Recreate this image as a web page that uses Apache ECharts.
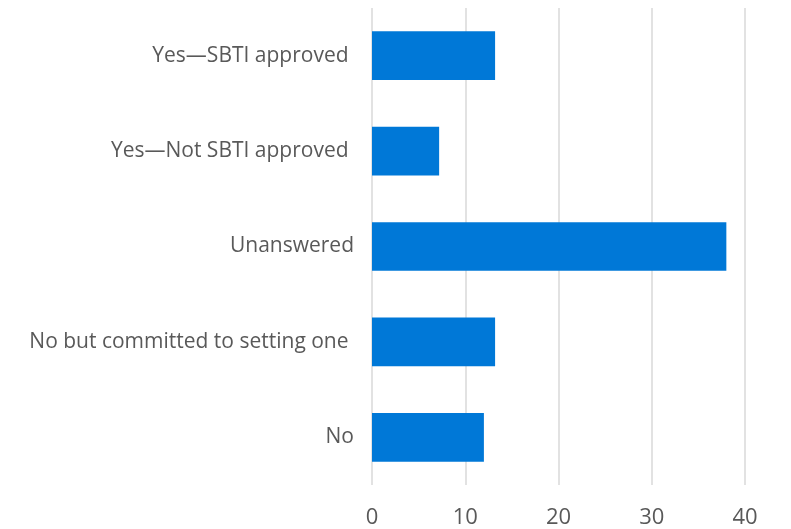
<!DOCTYPE html>
<html>
<head>
<meta charset="utf-8">
<script src="https://cdn.jsdelivr.net/npm/echarts@6/dist/echarts.min.js"></script>
<style>
  html, body { margin: 0; padding: 0; background: #ffffff; }
  #chart { width: 791px; height: 529px; }
</style>
</head>
<body>
<div id="chart"></div>
<script>
// Target-setting status of respondents (top to bottom)
const categories = [
  'Yes\u2014SBTI approved ',
  'Yes\u2014Not SBTI approved ',
  'Unanswered',
  'No but committed to setting one ',
  'No'
];
const counts = [13.2, 7.2, 38, 13.2, 12];
const xTicks = [0, 10, 20, 30, 40];

const chart = echarts.init(document.getElementById('chart'));
chart.setOption({
  animation: false,
  grid: { left: 372, right: 46, top: 8, bottom: 44, containLabel: false },
  xAxis: {
    type: 'value',
    min: xTicks[0],
    max: xTicks[xTicks.length - 1],
    interval: 10,
    axisLine: { show: false },
    axisTick: { show: false },
    axisLabel: {
      color: '#595959',
      fontFamily: 'Open Sans',
      fontSize: 22,
      margin: 22
    },
    splitLine: { lineStyle: { color: '#d9d9d9', width: 1.5 } }
  },
  yAxis: {
    type: 'category',
    inverse: true,
    data: categories,
    axisLine: { show: false },
    axisTick: { show: false },
    axisLabel: {
      color: '#595959',
      fontFamily: 'Open Sans',
      fontSize: 21,
      margin: 18,
      padding: [4, 0, 0, 0]
    }
  },
  series: [{
    type: 'bar',
    data: counts,
    barCategoryGap: '49%',
    itemStyle: { color: '#0078d7' }
  }]
});
</script>
</body>
</html>
